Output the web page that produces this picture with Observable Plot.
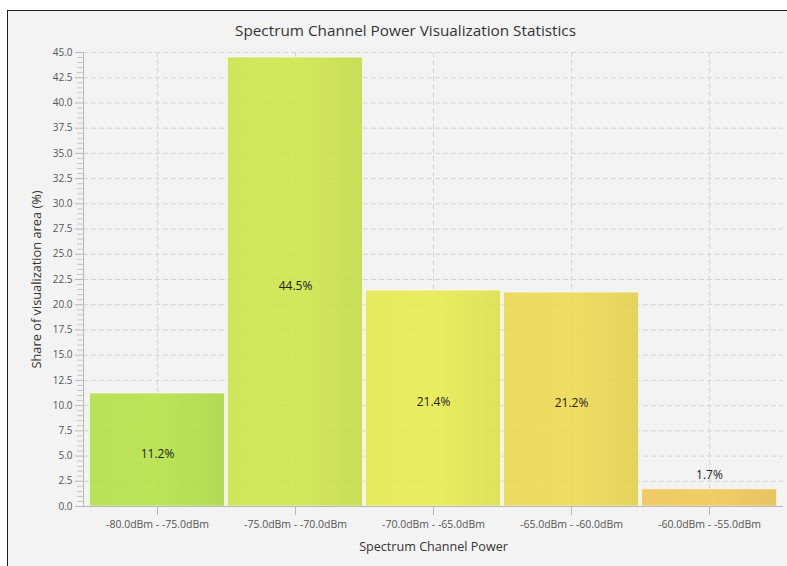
<!DOCTYPE html>
<html><head><meta charset="utf-8">
<script src="https://cdn.jsdelivr.net/npm/d3@7"></script>
<script src="https://cdn.jsdelivr.net/npm/@observablehq/plot@0.6"></script>
<style>
body{margin:0;background:#fff;width:787px;height:566px;overflow:hidden;position:relative;font-family:"Open Sans",sans-serif}
#frame{position:absolute;left:7px;top:10px;width:820px;height:620px;border:1.5px solid #1e1e1e;background:#f3f3f3}
#chart{position:absolute;left:0;top:0}
</style></head><body><div id="frame"></div><div id="chart"></div>
<script>
const categories = ["-80.0dBm - -75.0dBm", "-75.0dBm - -70.0dBm", "-70.0dBm - -65.0dBm", "-65.0dBm - -60.0dBm", "-60.0dBm - -55.0dBm"];
const shares = [11.2, 44.5, 21.4, 21.2, 1.7];
const shareLabels = ["11.2%", "44.5%", "21.4%", "21.2%", "1.7%"];
const barColors = ["#b4e04b", "#cce44e", "#e5e951", "#ebd856", "#eec759"];
const yTicks = [0, 2.5, 5, 7.5, 10, 12.5, 15, 17.5, 20, 22.5, 25, 27.5, 30, 32.5, 35, 37.5, 40, 42.5, 45];
const yMinorTicks = [0.5,1,1.5,2,3,3.5,4,4.5,5.5,6,6.5,7,8,8.5,9,9.5,10.5,11,11.5,12,13,13.5,14,14.5,15.5,16,16.5,17,18,18.5,19,19.5,20.5,21,21.5,22,23,23.5,24,24.5,25.5,26,26.5,27,28,28.5,29,29.5,30.5,31,31.5,32,33,33.5,34,34.5,35.5,36,36.5,37,38,38.5,39,39.5,40.5,41,41.5,42,43,43.5,44,44.5];
const title = "Spectrum Channel Power Visualization Statistics";
const xTitle = "Spectrum Channel Power";
const yTitle = "Share of visualization area (%)";

const data = categories.map((c, i) => ({c, v: shares[i], label: shareLabels[i]}));
const gridStyle = {stroke: "#d4d4d4", strokeOpacity: 1, strokeDasharray: "5,3"};

const chart = Plot.plot({
  width: 787, height: 566,
  marginLeft: 83, marginRight: 4, marginTop: 52, marginBottom: 60,
  style: {background: "transparent", fontFamily: "'Open Sans', sans-serif", overflow: "visible"},
  x: {domain: categories, range: [88, 778], padding: 0, label: null},
  y: {domain: [0, 45], label: null},
  marks: [
    Plot.gridY(yTicks, gridStyle),
    Plot.gridX(categories, gridStyle),
    ...data.map((d, i) => Plot.barY([d], {x: "c", y: "v", fill: `url(#grad${i})`, fillOpacity: 0.92, stroke: "#ffffff", strokeOpacity: 0.55, strokeWidth: 1, insetLeft: 1.5, insetRight: 1.5})),
    Plot.ruleY([0], {stroke: "#b8b8b8"}),
    Plot.frame({anchor: "left", stroke: "#b8b8b8"}),
    Plot.axisY(yMinorTicks, {tickSize: 6, tickFormat: () => "", stroke: "#c8c8c8", label: null}),
    Plot.axisY(yTicks, {tickSize: 8, tickPadding: 3, tickFormat: d => d.toFixed(1), fontSize: 10, fill: "#555", stroke: "#b8b8b8", label: null}),
    Plot.axisX({tickSize: 9, tickPadding: 5, fontSize: 10.5, fill: "#555", stroke: "#b8b8b8", label: null}),
    Plot.text(data.filter(d => d.v >= 5), {x: "c", y: d => d.v / 2, text: "label", dy: 4, fontSize: 12, fill: "#222"}),
    Plot.text(data.filter(d => d.v < 5), {x: "c", y: "v", text: "label", dy: -14, fontSize: 12, fill: "#222"}),
    Plot.text([title], {frameAnchor: "top-left", dx: 322, dy: -27, textAnchor: "middle", fontSize: 15.3, fill: "#333"}),
    Plot.text([xTitle], {frameAnchor: "bottom", dy: 44, textAnchor: "middle", fontSize: 12.6, fill: "#333"}),
    Plot.text([yTitle], {frameAnchor: "left", dx: -47, rotate: -90, textAnchor: "middle", fontSize: 12.8, fill: "#333"})
  ]
});

const defs = d3.select(chart).insert("defs", ":first-child");
barColors.forEach((c, i) => {
  const g = defs.append("linearGradient").attr("id", "grad" + i).attr("x1", 0).attr("x2", 1).attr("y1", 0).attr("y2", 0);
  const base = d3.color(c);
  g.append("stop").attr("offset", "0%").attr("stop-color", base.formatHex());
  g.append("stop").attr("offset", "50%").attr("stop-color", base.brighter(0.04).formatHex());
  g.append("stop").attr("offset", "100%").attr("stop-color", base.darker(0.1).formatHex());
});
document.getElementById("chart").appendChild(chart);
</script></body></html>
